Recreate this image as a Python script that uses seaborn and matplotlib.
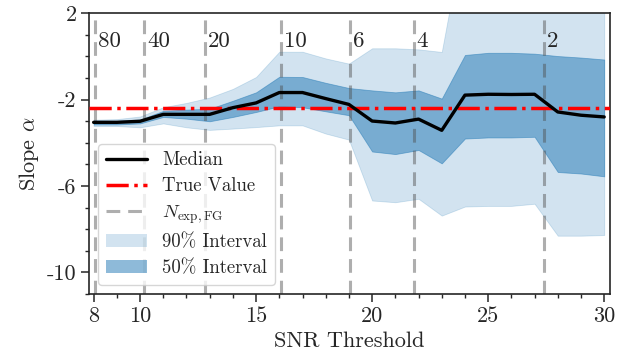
import numpy as np
import pandas as pd
import matplotlib
matplotlib.use("Agg")
import matplotlib.pyplot as plt
import seaborn as sns
from matplotlib.lines import Line2D
from matplotlib.patches import Patch
from matplotlib.ticker import MultipleLocator, FixedLocator

# ---------------- data ----------------
snr = [8, 9, 10, 11, 12, 13, 14, 15, 16, 17, 18, 19, 20, 21, 22, 23, 24, 25, 26, 27, 28, 29, 30]
median = [-3.05, -3.05, -3.00, -2.68, -2.68, -2.68, -2.37, -2.15, -1.67, -1.67, -1.95, -2.22,
          -2.99, -3.08, -2.90, -3.42, -1.79, -1.75, -1.76, -1.75, -2.57, -2.72, -2.80]
q25 = [-3.15, -3.15, -3.10, -2.80, -2.88, -3.00, -2.80, -2.57, -2.31, -2.35, -2.54, -2.72,
       -4.40, -4.52, -4.33, -4.95, -3.80, -3.75, -3.75, -3.72, -5.35, -5.42, -5.55]
q75 = [-2.97, -2.97, -2.92, -2.52, -2.46, -2.42, -2.05, -1.66, -0.94, -0.95, -1.22, -1.46,
       -1.57, -1.66, -1.57, -1.95, 0.07, 0.17, 0.17, 0.13, 0.02, -0.05, -0.14]
q05 = [-3.22, -3.22, -3.28, -3.10, -3.28, -3.40, -3.34, -3.27, -3.19, -3.19, -3.57, -3.85,
       -6.67, -6.75, -6.59, -7.37, -6.95, -6.92, -6.92, -6.82, -8.30, -8.30, -8.27]
q95 = [-2.93, -2.90, -2.78, -2.35, -2.15, -1.90, -1.50, -0.95, 0.22, 0.22, -0.09, -0.33,
       0.38, 0.38, 0.33, 0.21, 6.0, 6.2, 6.1, 6.0, 5.6, 5.4, 5.3]
true_value = -2.4

nexp_snr = [8.07, 10.19, 12.80, 16.09, 19.04, 21.79, 27.41]
nexp_labels = ["80", "40", "20", "10", "6", "4", "2"]

xticks = [8, 10, 15, 20, 25, 30]
yticks = [2, -2, -6, -10]
ytick_labels = ["2", "-2", "-6", "-10"]

df = pd.DataFrame({"snr": snr, "median": median})

# ---------------- style ----------------
sns.set_style("ticks")
plt.rcParams.update({
    "font.family": "serif",
    "font.serif": ["cmr10", "DejaVu Serif"],
    "mathtext.fontset": "cm",
    "axes.unicode_minus": False,
    "axes.formatter.use_mathtext": True,
    "axes.linewidth": 1.2,
    "xtick.direction": "out",
    "ytick.direction": "out",
    "xtick.major.size": 5.5,
    "ytick.major.size": 5.5,
    "xtick.minor.size": 3.0,
    "ytick.minor.size": 3.0,
    "xtick.major.width": 1.1,
    "ytick.major.width": 1.1,
    "xtick.minor.width": 1.0,
    "ytick.minor.width": 1.0,
})

fig = plt.figure(figsize=(6.22, 3.6), dpi=100)
ax = fig.add_axes([89 / 622, 1 - 294 / 360, (610 - 89) / 622, (294 - 13.3) / 360])

blue = "#1f77b4"
ax.fill_between(snr, q05, q95, color=blue, alpha=0.2, lw=0.6, zorder=1)
ax.fill_between(snr, q25, q75, color=blue, alpha=0.5, lw=0.6, zorder=1.5)

for xv, lab in zip(nexp_snr, nexp_labels):
    ax.axvline(xv, color="0.3", alpha=0.45, lw=2.2, ls=(0, (4.5, 2.6)), zorder=2)
    ax.text(xv + 0.12, 0.45, lab, fontsize=16.5, va="baseline", ha="left", zorder=5)

ax.axhline(true_value, color="red", lw=2.5, ls="-.", zorder=3)
sns.lineplot(data=df, x="snr", y="median", ax=ax, color="black", lw=2.4, zorder=4, legend=False)

ax.set_xlim(7.8, 30.25)
ax.set_ylim(-11, 2)
ax.xaxis.set_major_locator(FixedLocator(xticks))
ax.xaxis.set_minor_locator(MultipleLocator(1))
ax.set_yticks(yticks)
ax.set_yticklabels(ytick_labels)
ax.yaxis.set_minor_locator(MultipleLocator(1))
ax.set_xticklabels([str(v) for v in xticks])
ax.tick_params(labelsize=16)

ax.set_xlabel("SNR Threshold", fontsize=16)
ax.set_ylabel(r"Slope $\alpha$", fontsize=16)

handles = [
    Line2D([], [], color="black", lw=2.4),
    Line2D([], [], color="red", lw=2.5, ls="-."),
    Line2D([], [], color="0.3", alpha=0.45, lw=2.2, ls=(0, (4.5, 2.6))),
    Patch(facecolor=blue, alpha=0.2, edgecolor="none"),
    Patch(facecolor=blue, alpha=0.5, edgecolor="none"),
]
labels = ["Median", "True Value", r"$N_{\rm exp,FG}$", "90% Interval", "50% Interval"]
ax.legend(handles, labels, loc="lower left", fontsize=13.5, handlelength=2.2,
          labelspacing=0.42, framealpha=0.8, edgecolor="0.8")

fig.savefig("out.png", dpi=100)
